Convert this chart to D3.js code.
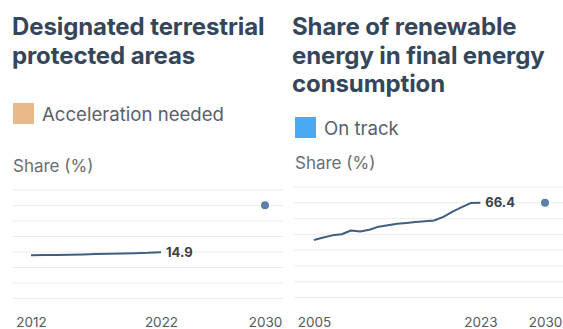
<!DOCTYPE html>
<html>
<head>
<meta charset="utf-8">
<script src="https://cdn.jsdelivr.net/npm/d3@7"></script>
<style>
body{margin:0;background:#fff;}
svg{display:block;font-family:Inter,Roboto,sans-serif;}
</style>
</head>
<body>
<svg width="563" height="329"></svg>
<script>
// left panel: designated terrestrial protected areas
const areaYears=[2012,2013,2014,2015,2016,2017,2018,2019,2020,2021,2022];
const areaShare=[13.9,14.0,14.0,14.1,14.2,14.3,14.4,14.5,14.6,14.7,14.9];
const areaTarget={year:2030,value:30};
const areaTicks=[2012,2022,2030];

// right panel: renewable share in final energy consumption
const renewYears=[2005,2006,2007,2008,2009,2010,2011,2012,2013,2014,2015,2016,2017,2018,2019,2020,2021,2022,2023];
const renewShare=[40.3,42.0,43.5,44.3,46.9,46.2,47.4,49.6,50.6,51.6,52.2,52.8,53.3,53.9,56.4,60.1,63.2,66.2,66.4];
const renewTarget={year:2030,value:66.4};
const renewTicks=[2005,2023,2030];

const svg=d3.select("svg");
const lineColor="#3f5f82", dotColor="#5b80a8", gridColor="#ececec";

function panel(cfg){
  const g=svg.append("g").attr("transform","translate("+cfg.left+",0)");
  // title
  g.append("text").attr("fill","#36465a").attr("font-weight",700).attr("font-size",24)
   .attr("letter-spacing",-0.1)
   .selectAll("tspan").data(cfg.title).enter().append("tspan")
   .attr("x",cfg.tx).attr("y",(d,i)=>35+i*28.5).text(d=>d);
  // legend
  g.append("rect").attr("x",13).attr("y",cfg.ly).attr("width",21).attr("height",21).attr("fill",cfg.legendColor);
  g.append("text").attr("x",42).attr("y",cfg.ly+18).attr("font-size",18.6).attr("fill","#58606a").text(cfg.legend);
  g.append("text").attr("x",13).attr("y",cfg.sy).attr("font-size",17).attr("fill","#6a6d72").text("Share (%)");

  const data=cfg.years.map((y,i)=>({year:y,value:cfg.values[i]}));
  const maxV=d3.max([d3.max(cfg.values),cfg.target.value])*1.165;
  const x=d3.scaleLinear().domain([cfg.years[0],cfg.target.year]).range(cfg.xr);
  const y=d3.scaleLinear().domain([0,maxV]).range(cfg.yr);

  // gridlines
  g.append("g").selectAll("line").data(d3.range(8).map(i=>maxV*i/7)).enter().append("line")
   .attr("x1",12).attr("x2",cfg.gx2).attr("y1",d=>y(d)).attr("y2",d=>y(d))
   .attr("stroke",gridColor).attr("stroke-width",1);

  // axis
  const ax=g.append("g").attr("transform","translate(0,"+cfg.axisY+")")
   .call(d3.axisBottom(x).tickValues(cfg.ticks).tickFormat(d3.format("d")).tickSize(0));
  ax.select(".domain").remove();
  ax.selectAll("text").attr("dy",0).attr("y",0).attr("font-size",13.5).attr("fill","#55595e")
   .attr("font-family","Inter,Roboto,sans-serif");

  // line
  g.append("path").datum(data)
   .attr("d",d3.line().x(d=>x(d.year)).y(d=>y(d.value)))
   .attr("fill","none").attr("stroke",lineColor).attr("stroke-width",2).attr("stroke-linejoin","round");

  const last=data[data.length-1];
  g.append("text").attr("x",x(last.year)+5).attr("y",y(last.value)+4.5)
   .attr("font-size",13).attr("font-weight",700).attr("fill","#3c4148")
   .text(d3.format(".1f")(last.value));

  // target dot
  g.append("circle").attr("cx",x(cfg.target.year)).attr("cy",y(cfg.target.value)).attr("r",4)
   .attr("fill",dotColor);
}

panel({left:0,tx:12,title:["Designated terrestrial","protected areas"],
  legend:"Acceleration needed",legendColor:"#e8b98b",ly:103,sy:172,
  years:areaYears,values:areaShare,target:areaTarget,ticks:areaTicks,
  xr:[31,265],yr:[298.5,190],gx2:283,axisY:327});

panel({left:282,tx:10,title:["Share of renewable","energy in final energy","consumption"],
  legend:"On track",legendColor:"#4aa9f2",ly:117,sy:169,
  years:renewYears,values:renewShare,target:renewTarget,ticks:renewTicks,
  xr:[32,263],yr:[297.5,187],gx2:281,axisY:327});
</script>
</body>
</html>
